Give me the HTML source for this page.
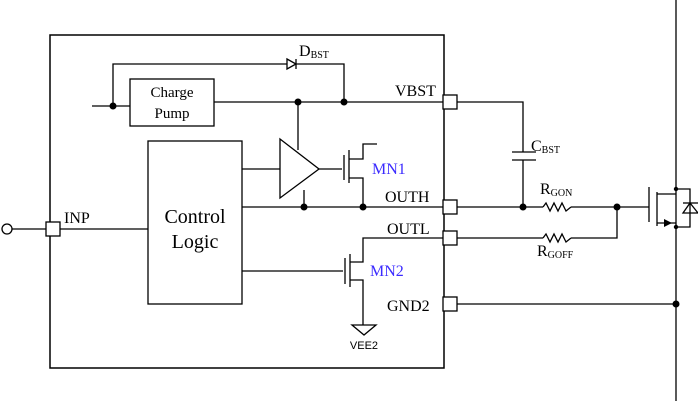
<!DOCTYPE html>
<html><head><style>body{margin:0;background:#fff}svg{display:block}text{font-family:"Liberation Serif",serif;fill:#000}</style></head><body>
<svg width="698" height="401" viewBox="0 0 698 401" xmlns="http://www.w3.org/2000/svg">
<g stroke="#000" stroke-width="1.3" fill="none">
<rect x="50" y="35" width="394" height="333" stroke-width="1.5"/>
<rect x="130" y="79" width="84" height="47" fill="#fff"/>
<rect x="148" y="141" width="94" height="163" fill="#fff"/>
<polyline points="92,106 130,106"/>
<polyline points="113,106 113,64 287,64"/>
<polyline points="296,64 344,64 344,102"/>
<polygon points="287,59 296,64 287,69"/>
<line x1="296" y1="59" x2="296" y2="69"/>
<line x1="214" y1="102" x2="443" y2="102"/>
<polyline points="457,102 523,102 523,152"/>
<line x1="512" y1="152" x2="536" y2="152"/><line x1="512" y1="160" x2="536" y2="160"/>
<line x1="523" y1="160" x2="523" y2="207"/>
<line x1="298" y1="102" x2="298" y2="150"/>
<polygon points="280,139 319,169 280,198"/>
<line x1="242" y1="169" x2="280" y2="169"/>
<line x1="304" y1="190" x2="304" y2="207"/>
<line x1="319" y1="169" x2="342" y2="169"/>
<line x1="344" y1="155" x2="344" y2="180"/>
<line x1="349" y1="150" x2="349" y2="183"/>
<polyline points="349,159 363,159 363,144 377,144"/>
<polyline points="349,178 363,178 363,207"/>
<line x1="242" y1="207" x2="443" y2="207"/>
<polyline points="443,238 363,238 363,262 350,262"/>
<line x1="242" y1="271" x2="343" y2="271"/>
<line x1="345" y1="258" x2="345" y2="284"/>
<line x1="350" y1="254" x2="350" y2="287"/>
<polyline points="350,280 363,280 363,325"/>
<polygon points="352,325 376,325 364,335"/>
<line x1="12" y1="229" x2="46" y2="229"/>
<line x1="60" y1="229" x2="148" y2="229"/>
<circle cx="7" cy="229" r="5"/>
<line x1="457" y1="207" x2="543" y2="207"/>
<polyline points="543,207 546,203 550,211 554,203 558,211 562,203 566,211 571,207"/>
<line x1="571" y1="207" x2="649" y2="207"/>
<line x1="457" y1="238" x2="543" y2="238"/>
<polyline points="543,238 546,234 550,242 554,234 558,242 562,234 566,242 571,238"/>
<polyline points="571,238 617,238 617,207"/>
<line x1="649" y1="187" x2="649" y2="222"/>
<line x1="657" y1="192" x2="657" y2="226"/>
<polyline points="657,194 676,194"/>
<polyline points="657,223 676,223"/>
<line x1="676" y1="0" x2="676" y2="401"/>
<polyline points="676,189 690,189 690,227 676,227"/>
<polygon points="683,213 698,213 690,203"/>
<line x1="683" y1="203" x2="698" y2="203"/>
<line x1="457" y1="304" x2="676" y2="304"/>
</g>
<polygon points="664,219 672,223 664,227" fill="#000"/>
<g fill="#fff" stroke="#000" stroke-width="1.3">
<rect x="443" y="95" width="14" height="14"/>
<rect x="443" y="200" width="14" height="14"/>
<rect x="443" y="231" width="14" height="14"/>
<rect x="443" y="297" width="14" height="14"/>
<rect x="46" y="222" width="14" height="14"/>
</g>
<g fill="#000">
<circle cx="113" cy="106" r="3.5"/><circle cx="298" cy="102" r="3.5"/><circle cx="344" cy="102" r="3.5"/>
<circle cx="304" cy="207" r="3.5"/><circle cx="363" cy="207" r="3.5"/><circle cx="523" cy="207" r="3.5"/>
<circle cx="617" cy="207" r="3.5"/><circle cx="676" cy="304" r="3.5"/>
<circle cx="676" cy="189" r="2.2"/><circle cx="676" cy="227" r="2.2"/>
</g>
<text x="172" y="97" font-size="15" text-anchor="middle">Charge</text>
<text x="172" y="118" font-size="15" text-anchor="middle">Pump</text>
<text x="195" y="223" font-size="20" text-anchor="middle">Control</text>
<text x="195" y="248" font-size="20" text-anchor="middle">Logic</text>
<text x="299" y="56" font-size="16">D<tspan font-size="10" dy="2">BST</tspan></text>
<text x="395" y="96" font-size="16">VBST</text>
<text x="385" y="202" font-size="16">OUTH</text>
<text x="387" y="234" font-size="16">OUTL</text>
<text x="387" y="311" font-size="16">GND2</text>
<text x="64" y="223" font-size="16">INP</text>
<text x="372" y="174" font-size="16" style="fill:#3b2bff">MN1</text>
<text x="370" y="276" font-size="16" style="fill:#3b2bff">MN2</text>
<text x="364" y="349" font-size="11" text-anchor="middle" style="font-family:'Liberation Sans',sans-serif">VEE2</text>
<text x="531" y="151" font-size="16">C<tspan font-size="10" dy="2">BST</tspan></text>
<text x="540" y="194" font-size="16">R<tspan font-size="10" dy="2">GON</tspan></text>
<text x="537" y="256" font-size="16">R<tspan font-size="10" dy="2">GOFF</tspan></text>
</svg>
</body></html>
